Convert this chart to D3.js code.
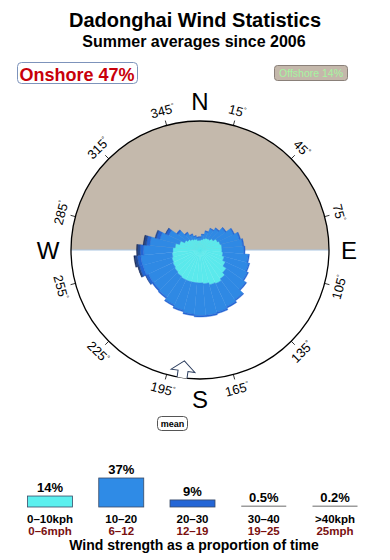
<!DOCTYPE html>
<html>
<head>
<meta charset="utf-8">
<script src="https://cdn.jsdelivr.net/npm/d3@7"></script>
<style>
body { margin: 0; background: #fff; }
svg { display: block; font-family: "Liberation Sans", Arial, sans-serif; }
</style>
</head>
<body>
<svg id="chart" width="390" height="560"></svg>
<script>
// wind direction sectors (degrees, direction the wind comes from)
const directions = [0, 10, 20, 30, 40, 50, 60, 70, 80, 90, 100, 110, 120, 130, 140, 150, 160, 170,
    180, 190, 200, 210, 220, 230, 240, 250, 260, 270, 280, 290, 300, 310, 320, 330, 340, 350]

// % of time per sector, per speed band
const speed0to10 = [0.06, 0.07, 0.09, 0.11, 0.12, 0.16, 0.23, 0.27, 0.30, 0.30, 0.33, 0.39, 0.49, 0.64, 0.77, 0.86, 0.81, 0.72,
    0.68, 0.68, 0.68, 0.68, 0.64, 0.60, 0.56, 0.53, 0.49, 0.46, 0.39, 0.28, 0.18, 0.14, 0.11, 0.09, 0.08, 0.06]
const speed10to20 = [0.04, 0.08, 0.14, 0.23, 0.31, 0.44, 0.62, 0.77, 0.85, 0.91, 1.14, 1.20, 1.22, 1.30, 1.53, 1.59, 1.79, 1.97,
    2.01, 1.92, 1.77, 1.62, 1.44, 1.40, 1.47, 1.65, 1.72, 1.53, 1.20, 0.80, 0.57, 0.31, 0.16, 0.09, 0.05, 0.04]
const speed20to30 = [0.01, 0.01, 0.02, 0.02, 0.03, 0.04, 0.05, 0.06, 0.06, 0.06, 0.07, 0.07, 0.08, 0.09, 0.10, 0.11, 0.12, 0.12,
    0.12, 0.12, 0.11, 0.10, 0.10, 0.12, 0.20, 0.26, 0.26, 0.25, 0.22, 0.20, 0.13, 0.06, 0.03, 0.02, 0.01, 0.01]
const speed30to40 = [0, 0, 0, 0, 0, 0, 0, 0, 0, 0, 0, 0, 0, 0, 0, 0, 0, 0,
    0, 0, 0, 0, 0, 0, 0.04, 0.12, 0.20, 0.20, 0.17, 0.08, 0.03, 0, 0, 0, 0, 0]
const speedOver40 = [0, 0, 0, 0, 0, 0, 0, 0, 0, 0, 0, 0, 0, 0, 0, 0, 0, 0,
    0, 0, 0, 0, 0, 0, 0, 0.03, 0.09, 0.08, 0.05, 0, 0, 0, 0, 0, 0, 0]

const bandKph = ["0–10kph", "10–20", "20–30", "30–40", ">40kph"]
const bandMph = ["0–6mph", "6–12", "12–19", "19–25", "25mph"]
const bandTotals = [14, 37, 9, 0.5, 0.2]

const degreeTicks = [15, 45, 75, 105, 135, 165, 195, 225, 255, 285, 315, 345]
const compassPoints = ["N", "E", "S", "W"]
const compassAngles = [0, 90, 180, 270]

const onshorePct = 47
const offshorePct = 14
const meanDirection = 188

const roseColors = ["#5be9ec", "#2f89e4", "#2466d4", "#234a94", "#1a2b58"]
const barColors = ["#5cf0ef", "#2f8be6", "#2466d6", "#9c9c9c", "#9c9c9c"]

const svg = d3.select("#chart")
const cx = 200, cy = 250, R = 129
const rad = Math.PI / 180

// titles
svg.append("text").attr("x", 195).attr("y", 27).attr("text-anchor", "middle")
    .attr("font-size", 20).attr("font-weight", "bold").text("Dadonghai Wind Statistics")
svg.append("text").attr("x", 194).attr("y", 47).attr("text-anchor", "middle")
    .attr("font-size", 16).attr("font-weight", "bold").text("Summer averages since 2006")

// onshore / offshore boxes
svg.append("rect").attr("x", 17.5).attr("y", 62.5).attr("width", 120).attr("height", 21).attr("rx", 4)
    .attr("fill", "#fff").attr("stroke", "#7d93bb")
svg.append("text").attr("x", 77).attr("y", 80.5).attr("text-anchor", "middle")
    .attr("font-size", 18).attr("font-weight", "bold").attr("fill", "#c8000a").text(`Onshore ${onshorePct}%`)
svg.append("rect").attr("x", 274.5).attr("y", 65.5).attr("width", 73).attr("height", 15).attr("rx", 3)
    .attr("fill", "#c4b8ab").attr("stroke", "#8a8079")
svg.append("text").attr("x", 311).attr("y", 77).attr("text-anchor", "middle")
    .attr("font-size", 10.5).attr("fill", "#a6f5a0").text(`Offshore ${offshorePct}%`)

const compass = svg.append("g").attr("transform", `translate(${cx},${cy})`)

// offshore half (north side)
compass.append("path")
    .attr("d", d3.arc().innerRadius(0).outerRadius(R).startAngle(-Math.PI / 2).endAngle(Math.PI / 2)())
    .attr("fill", "#c4b9ac")
compass.append("line").attr("x1", -R).attr("x2", R).attr("y1", 0).attr("y2", 0)
    .attr("stroke", "#a9c6e2").attr("stroke-width", 1.2)

// rose
const keys = ["b0", "b1", "b2", "b3", "b4"]
const bands = [speed0to10, speed10to20, speed20to30, speed30to40, speedOver40]
const rows = directions.map((dir, i) => {
    const row = { dir: dir }
    keys.forEach((k, j) => row[k] = bands[j][i])
    return row
})
const stacked = d3.stack().keys(keys)(rows)
const r = d3.scaleSqrt().domain([0, 10.4]).range([0, R])
const sector = d3.arc()
    .innerRadius(d => r(d[0]))
    .outerRadius(d => r(d[1]))
    .startAngle(d => (d.data.dir - 5) * rad)
    .endAngle(d => (d.data.dir + 5) * rad)

compass.append("g")
    .selectAll("g")
    .data(stacked)
    .join("g")
    .attr("fill", (d, i) => roseColors[i])
    .attr("stroke", (d, i) => roseColors[i])
    .attr("stroke-width", 0.4)
    .selectAll("path")
    .data(d => d.filter(p => p[1] > p[0]))
    .join("path")
    .attr("d", sector)

// outer ring
compass.append("circle").attr("r", R).attr("fill", "none").attr("stroke", "#000").attr("stroke-width", 1.3)

// ticks and degree labels
compass.selectAll(".tick")
    .data(degreeTicks)
    .join("line")
    .attr("class", "tick")
    .attr("x1", d => R * Math.sin(d * rad)).attr("y1", d => -R * Math.cos(d * rad))
    .attr("x2", d => (R + 5) * Math.sin(d * rad)).attr("y2", d => -(R + 5) * Math.cos(d * rad))
    .attr("stroke", "#000").attr("stroke-width", 0.8)

const degLabel = compass.selectAll(".deg")
    .data(degreeTicks)
    .join("text")
    .attr("class", "deg")
    .attr("text-anchor", "middle")
    .attr("dy", "0.35em")
    .attr("font-size", 13)
    .attr("transform", d => {
        const rot = (d > 90 && d < 270) ? d - 180 : (d > 180 ? d - 360 : d)
        return `translate(${144 * Math.sin(d * rad)},${-144 * Math.cos(d * rad)}) rotate(${rot})`
    })
degLabel.append("tspan").text(d => d)
degLabel.append("tspan").attr("font-size", 7).attr("dy", "-0.7em").text("°")

compass.selectAll(".pt")
    .data(compassPoints)
    .join("text")
    .attr("class", "pt")
    .attr("text-anchor", "middle")
    .attr("dy", "0.36em")
    .attr("font-size", 24)
    .attr("x", (d, i) => 149 * Math.sin(compassAngles[i] * rad) + (d === "W" ? -3 : 0))
    .attr("y", (d, i) => -149 * Math.cos(compassAngles[i] * rad))
    .text(d => d)

// mean direction arrow
compass.append("path")
    .attr("transform", `rotate(${meanDirection})`)
    .attr("d", "M-5,-129L-5,-122L-12,-122L0,-112L12,-122L5,-122L5,-129")
    .attr("fill", "#fff").attr("stroke", "#2b3d5e").attr("stroke-width", 1)

svg.append("rect").attr("x", 157.5).attr("y", 416.5).attr("width", 30).attr("height", 14).attr("rx", 4)
    .attr("fill", "#fff").attr("stroke", "#555")
svg.append("text").attr("x", 172.5).attr("y", 427).attr("text-anchor", "middle")
    .attr("font-size", 9).attr("font-weight", "bold").text("mean")

// speed bars
const base = 507
const x = d3.scalePoint().domain(bandKph).range([50, 335])
const h = d3.scaleLinear().domain([0, 37]).range([0, 29])
const barW = 45

const bars = svg.append("g")
bars.selectAll("rect")
    .data(bandTotals)
    .join("rect")
    .attr("x", (d, i) => x(bandKph[i]) - barW / 2)
    .attr("y", d => base - Math.max(h(d), 1.5))
    .attr("width", barW)
    .attr("height", d => Math.max(h(d), 1.5))
    .attr("fill", (d, i) => barColors[i])
    .attr("stroke", (d, i) => d >= 1 ? "#3a4a66" : "none")
    .attr("stroke-width", 0.8)

bars.selectAll(".pct")
    .data(bandTotals)
    .join("text")
    .attr("class", "pct")
    .attr("x", (d, i) => x(bandKph[i]))
    .attr("y", d => base - Math.max(h(d), 1.5) - 4)
    .attr("text-anchor", "middle")
    .attr("font-size", 13).attr("font-weight", "bold")
    .text(d => d + "%")

bars.selectAll(".kph")
    .data(bandKph)
    .join("text")
    .attr("class", "kph")
    .attr("x", d => x(d)).attr("y", 522.5)
    .attr("text-anchor", "middle").attr("font-size", 11.5).attr("font-weight", "bold")
    .text(d => d)

bars.selectAll(".mph")
    .data(bandMph)
    .join("text")
    .attr("class", "mph")
    .attr("x", (d, i) => x(bandKph[i])).attr("y", 534.5)
    .attr("text-anchor", "middle").attr("font-size", 11.5).attr("font-weight", "bold")
    .attr("fill", "#7a1010")
    .text(d => d)

svg.append("text").attr("x", 194).attr("y", 550).attr("text-anchor", "middle")
    .attr("font-size", 14).attr("font-weight", "bold").text("Wind strength as a proportion of time")
</script>
</body>
</html>
